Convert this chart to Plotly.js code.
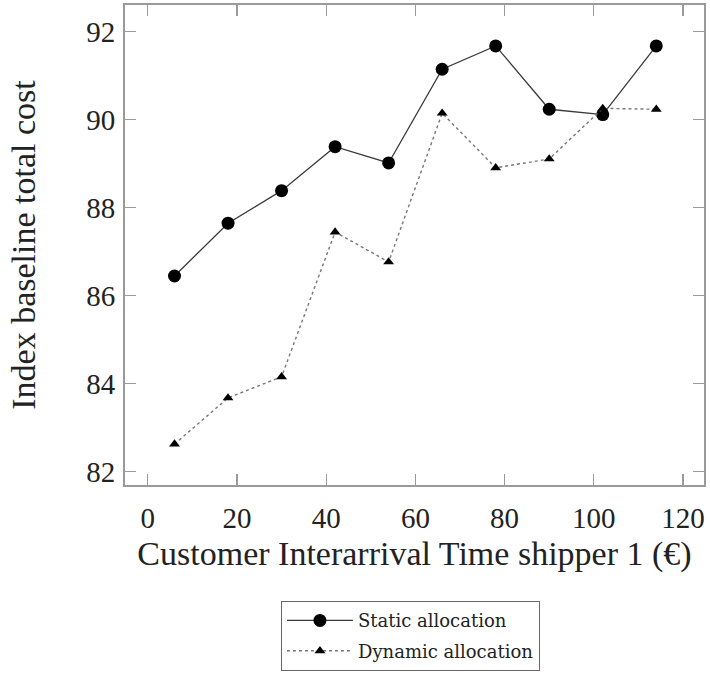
<!DOCTYPE html>
<html>
<head>
<meta charset="utf-8">
<script src="https://cdn.plot.ly/plotly-3.0.1.min.js"></script>
<style>
  html, body { margin: 0; padding: 0; background: #fff; }
  #chart { width: 710px; height: 676px; }
</style>
</head>
<body>
<div id="chart"></div>
<script>
// Customer interarrival time of shipper 1 (x) and the indexed total cost (y)
const interarrival = [6, 18, 30, 42, 54, 66, 78, 90, 102, 114];
const staticCost   = [86.45, 87.65, 88.39, 89.39, 89.02, 91.15, 91.68, 90.24, 90.12, 91.68];
const dynamicCost  = [82.63, 83.68, 84.16, 87.45, 86.77, 90.15, 88.91, 89.11, 90.26, 90.24];
const seriesNames  = ['Static allocation', 'Dynamic allocation'];
const xTicks = [0, 20, 40, 60, 80, 100, 120];
const yTicks = [82, 84, 86, 88, 90, 92];

const serif = '"Liberation Serif", "DejaVu Serif", serif';
const frameColor = '#9a9a9a';

const traces = [
  {
    x: interarrival, y: staticCost, name: seriesNames[0], legendgroup: 'static',
    type: 'scatter', mode: 'lines+markers',
    line: { color: '#3a3a3a', width: 1.3 },
    marker: { symbol: 'circle', size: 13, color: '#000' }
  },
  {
    x: interarrival, y: dynamicCost, name: seriesNames[1], legendgroup: 'dynamic',
    type: 'scatter', mode: 'lines+markers',
    line: { color: '#777', width: 1.4, dash: 'dot' },
    marker: { symbol: 'triangle-up', size: 9.5, color: '#000' }
  }
];

const axisCommon = {
  showgrid: false, zeroline: false, automargin: false,
  showline: true, linecolor: frameColor, linewidth: 2, mirror: 'ticks',
  ticks: 'inside', ticklen: 11, tickwidth: 1.3, tickcolor: frameColor,
  tickfont: { family: serif, size: 29, color: '#222' }
};

const layout = {
  width: 710, height: 676,
  margin: { l: 125, r: 6, t: 5, b: 191 },
  paper_bgcolor: '#fff', plot_bgcolor: '#fff',
  showlegend: true,
  xaxis: Object.assign({}, axisCommon, {
    range: [-5.1, 124.7], tickvals: xTicks, ticktext: xTicks.map(String),
    ticklabelstandoff: 6,
    title: { text: 'Customer Interarrival Time shipper 1 (€)', standoff: 8,
             font: { family: serif, size: 34, color: '#222' } }
  }),
  yaxis: Object.assign({}, axisCommon, {
    range: [81.70, 92.61], tickvals: yTicks, ticktext: yTicks.map(String),
    ticklabelstandoff: 2,
    title: { text: 'Index baseline total cost', standoff: 40,
             font: { family: serif, size: 34, color: '#222' } }
  }),
  legend: {
    x: 0.269, y: -0.3875, xanchor: 'left', yanchor: 'bottom',
    bgcolor: '#fff', bordercolor: '#666', borderwidth: 1.2,
    font: { family: '"DejaVu Serif", serif', size: 18, color: '#222' },
    itemwidth: 66, tracegroupgap: 4
  }
};

Plotly.newPlot('chart', traces, layout, { displayModeBar: false, staticPlot: true });
</script>
</body>
</html>
